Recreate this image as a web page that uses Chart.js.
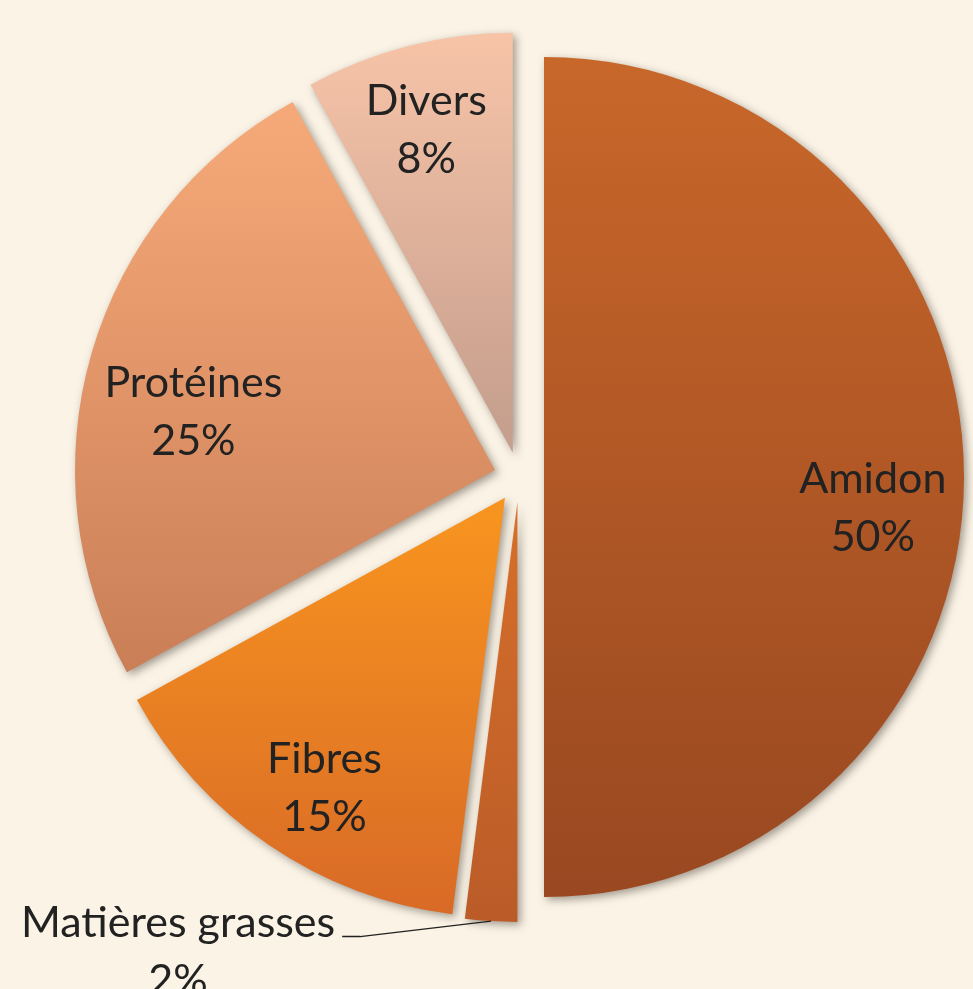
<!DOCTYPE html>
<html>
<head>
<meta charset="utf-8">
<script src="https://cdn.jsdelivr.net/npm/chart.js@4"></script>
<style>
  html, body { margin: 0; padding: 0; background: #faf3e6; }
  canvas { display: block; }
</style>
</head>
<body>
<canvas id="chart" width="973" height="989"></canvas>
<script>
const categories = ['Amidon', 'Matières grasses', 'Fibres', 'Protéines', 'Divers'];
const shares = [50, 2, 15, 25, 8];
const percentLabels = ['50%', '2%', '15%', '25%', '8%'];

// slice colours, top -> bottom
const topColors = ['#c8672a', '#d46e2a', '#f7931f', '#f7aa79', '#fac6a9'];
const bottomColors = ['#994821', '#b95a28', '#d76827', '#cb7f57', '#c69f8e'];

const PIE_R = 420;
const SHIFT = 25;      // how far each slice is pulled out
const LINE_H = 58;

// label spot: fraction of radius along slice middle, then a small nudge
const labelRadius = [0.79, 1, 0.79, 0.79, 0.79];
const labelNudge = [[-3, 30], [-313, 30], [6, 15], [17, 34], [-4, -2]];

function sliceCenter(arc) {
  const mid = (arc.startAngle + arc.endAngle) / 2;
  return { mid, x: arc.x + Math.cos(mid) * SHIFT, y: arc.y + Math.sin(mid) * SHIFT };
}

// keep every slice at the same radius / full angle and give it its own vertical gradient
const explode = {
  id: 'explode',
  afterDatasetUpdate(chart, args) {
    const ctx = chart.ctx;
    args.meta.data.forEach((arc, i) => {
      const fix = 1 - Math.sin(Math.min(Math.PI, arc.circumference));
      const ro = SHIFT * fix;
      arc.outerRadius = PIE_R - ro;
      const widen = ro / (2 * Math.PI * PIE_R);
      arc.startAngle -= widen;
      arc.endAngle += widen;
      const c = sliceCenter(arc);
      let yTop = c.y, yBot = c.y;
      for (let k = 0; k <= 60; k++) {
        const a = arc.startAngle + (arc.endAngle - arc.startAngle) * k / 60;
        const y = c.y + Math.sin(a) * PIE_R;
        yTop = Math.min(yTop, y);
        yBot = Math.max(yBot, y);
      }
      const g = ctx.createLinearGradient(0, yTop, 0, yBot);
      g.addColorStop(0, topColors[i]);
      g.addColorStop(1, bottomColors[i]);
      arc.options = Object.assign({}, arc.options, { backgroundColor: g });
    });
  },
  beforeDatasetDraw(chart) {
    const ctx = chart.ctx;
    ctx.save();
    ctx.shadowColor = 'rgba(70, 60, 50, 0.5)';
    ctx.shadowBlur = 8;
    ctx.shadowOffsetX = 3;
    ctx.shadowOffsetY = 3;
  },
  afterDatasetDraw(chart) {
    chart.ctx.restore();
  }
};

const sliceLabels = {
  id: 'sliceLabels',
  afterDatasetsDraw(chart) {
    const ctx = chart.ctx;
    const arcs = chart.getDatasetMeta(0).data;
    ctx.save();
    ctx.font = '43px Lato';
    ctx.fillStyle = '#222222';
    ctx.strokeStyle = '#222222';
    ctx.textAlign = 'center';
    ctx.textBaseline = 'alphabetic';
    arcs.forEach((arc, i) => {
      const c = sliceCenter(arc);
      const f = labelRadius[i];
      const rimX = c.x + Math.cos(c.mid) * PIE_R;
      const rimY = c.y + Math.sin(c.mid) * PIE_R;
      const px = c.x + Math.cos(c.mid) * PIE_R * f + labelNudge[i][0];
      const py = c.y + Math.sin(c.mid) * PIE_R * f + labelNudge[i][1];
      const b1 = py - 14.5;
      ctx.fillText(categories[i], px, b1);
      ctx.fillText(percentLabels[i], px, b1 + LINE_H);
      if (f >= 1) {
        const right = px + ctx.measureText(categories[i]).width / 2;
        ctx.lineWidth = 1.5;
        ctx.beginPath();
        ctx.moveTo(rimX, rimY);
        ctx.lineTo(right + 25, b1);
        ctx.lineTo(right + 7, b1);
        ctx.stroke();
      }
    });
    ctx.restore();
  }
};

new Chart(document.getElementById('chart'), {
  type: 'pie',
  data: {
    labels: categories,
    datasets: [{
      data: shares,
      offset: SHIFT * 4,
      borderWidth: 0,
      clip: false
    }]
  },
  options: {
    responsive: false,
    animation: false,
    events: [],
    radius: PIE_R,
    layout: { padding: { left: 65, right: 0, top: 0, bottom: 35 } },
    plugins: {
      legend: { display: false },
      tooltip: { enabled: false }
    }
  },
  plugins: [explode, sliceLabels]
});
</script>
</body>
</html>
